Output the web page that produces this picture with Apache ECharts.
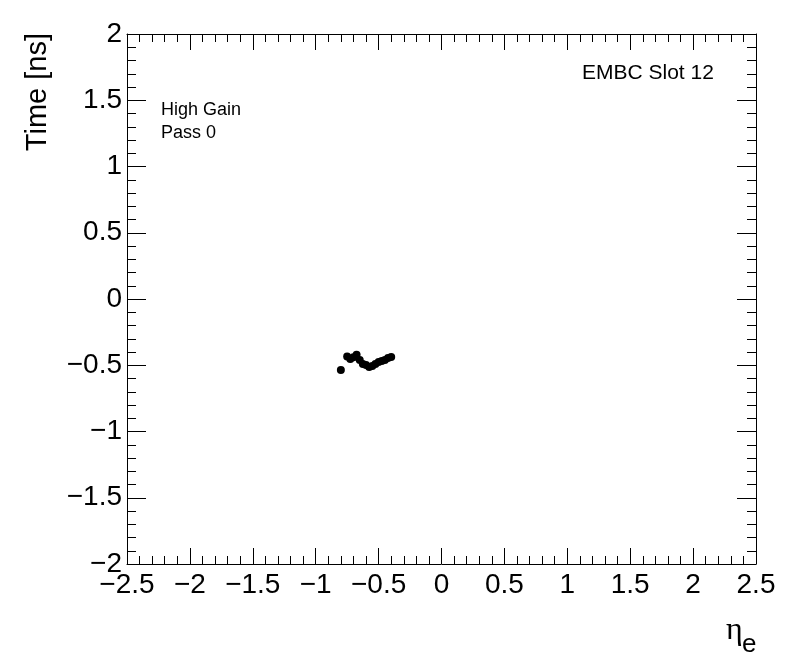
<!DOCTYPE html>
<html>
<head>
<meta charset="utf-8">
<script src="https://cdn.jsdelivr.net/npm/echarts@6/dist/echarts.min.js"></script>
<style>html,body{margin:0;padding:0;background:#fff}#c{width:796px;height:672px}</style>
</head>
<body>
<div id="c"></div>
<script>
const etaValues = [-0.80, -0.75, -0.725, -0.70, -0.675, -0.65, -0.625, -0.60, -0.575, -0.55, -0.525, -0.50, -0.475, -0.45, -0.425, -0.40];
const timeValues = [-0.536, -0.434, -0.453, -0.44, -0.42, -0.46, -0.49, -0.498, -0.513, -0.506, -0.49, -0.475, -0.468, -0.46, -0.445, -0.437];
const xTitle = 'η';
const xTitleSub = 'e';
const yTitle = 'Time [ns]';
const labelTexts = ['EMBC Slot 12', 'High Gain', 'Pass 0'];

const fmt = v => String(v).replace('-', '\u2212');
const font = 'Liberation Sans, Arial, Helvetica, sans-serif';
const black = '#000';

function xAx(pos, show) {
  return {
    type: 'value', min: -2.5, max: 2.5, interval: 0.5, position: pos,
    axisLine: { onZero: false, lineStyle: { color: black, width: 1 } },
    axisTick: { inside: true, length: 16, lineStyle: { color: black } },
    minorTick: { show: true, splitNumber: 5, length: 8, lineStyle: { color: black } },
    splitLine: { show: false },
    axisLabel: { show: show, formatter: fmt, color: black, fontSize: 28, fontFamily: font, margin: 7, showMinLabel: true, showMaxLabel: true, hideOverlap: false }
  };
}
function yAx(pos, show) {
  return {
    type: 'value', min: -2, max: 2, interval: 0.5, position: pos,
    axisLine: { onZero: false, lineStyle: { color: black, width: 1 } },
    axisTick: { inside: true, length: 19, lineStyle: { color: black } },
    minorTick: { show: true, splitNumber: 5, length: 9, lineStyle: { color: black } },
    splitLine: { show: false },
    axisLabel: { show: show, formatter: fmt, color: black, fontSize: 28, fontFamily: font, margin: 5, showMinLabel: true, showMaxLabel: true, hideOverlap: false }
  };
}

const chart = echarts.init(document.getElementById('c'), null, { renderer: 'canvas' });

chart.setOption({
  animation: false,
  backgroundColor: '#fff',
  grid: { left: 127, right: 40, top: 34, bottom: 108, containLabel: false, outerBoundsMode: 'none' },
  xAxis: [xAx('bottom', true), xAx('top', false)],
  yAxis: [yAx('left', true), yAx('right', false)],
  series: [{
    type: 'scatter', xAxisIndex: 0, yAxisIndex: 0,
    data: etaValues.map((e, i) => [e, timeValues[i]]),
    symbol: 'circle', symbolSize: 8,
    itemStyle: { color: black, opacity: 1 }
  }],
  graphic: [
    { type: 'text', x: 38, y: 33, rotation: Math.PI / 2, style: { text: yTitle, font: '29px ' + font, fill: black, align: 'right', verticalAlign: 'middle' } },
    { type: 'text', x: 582, y: 73, style: { text: labelTexts[0], font: '21px ' + font, fill: black, verticalAlign: 'middle' } },
    { type: 'text', x: 161, y: 110, style: { text: labelTexts[1], font: '18px ' + font, fill: black, verticalAlign: 'middle' } },
    { type: 'text', x: 161, y: 133, style: { text: labelTexts[2], font: '18px ' + font, fill: black, verticalAlign: 'middle' } },
    { type: 'text', x: 726, y: 631, style: { text: xTitle, font: '32px Liberation Serif, DejaVu Serif, serif', fill: black, verticalAlign: 'middle' } },
    { type: 'text', x: 742, y: 645, style: { text: xTitleSub, font: '26px ' + font, fill: black, verticalAlign: 'middle' } }
  ]
});
</script>
</body>
</html>
